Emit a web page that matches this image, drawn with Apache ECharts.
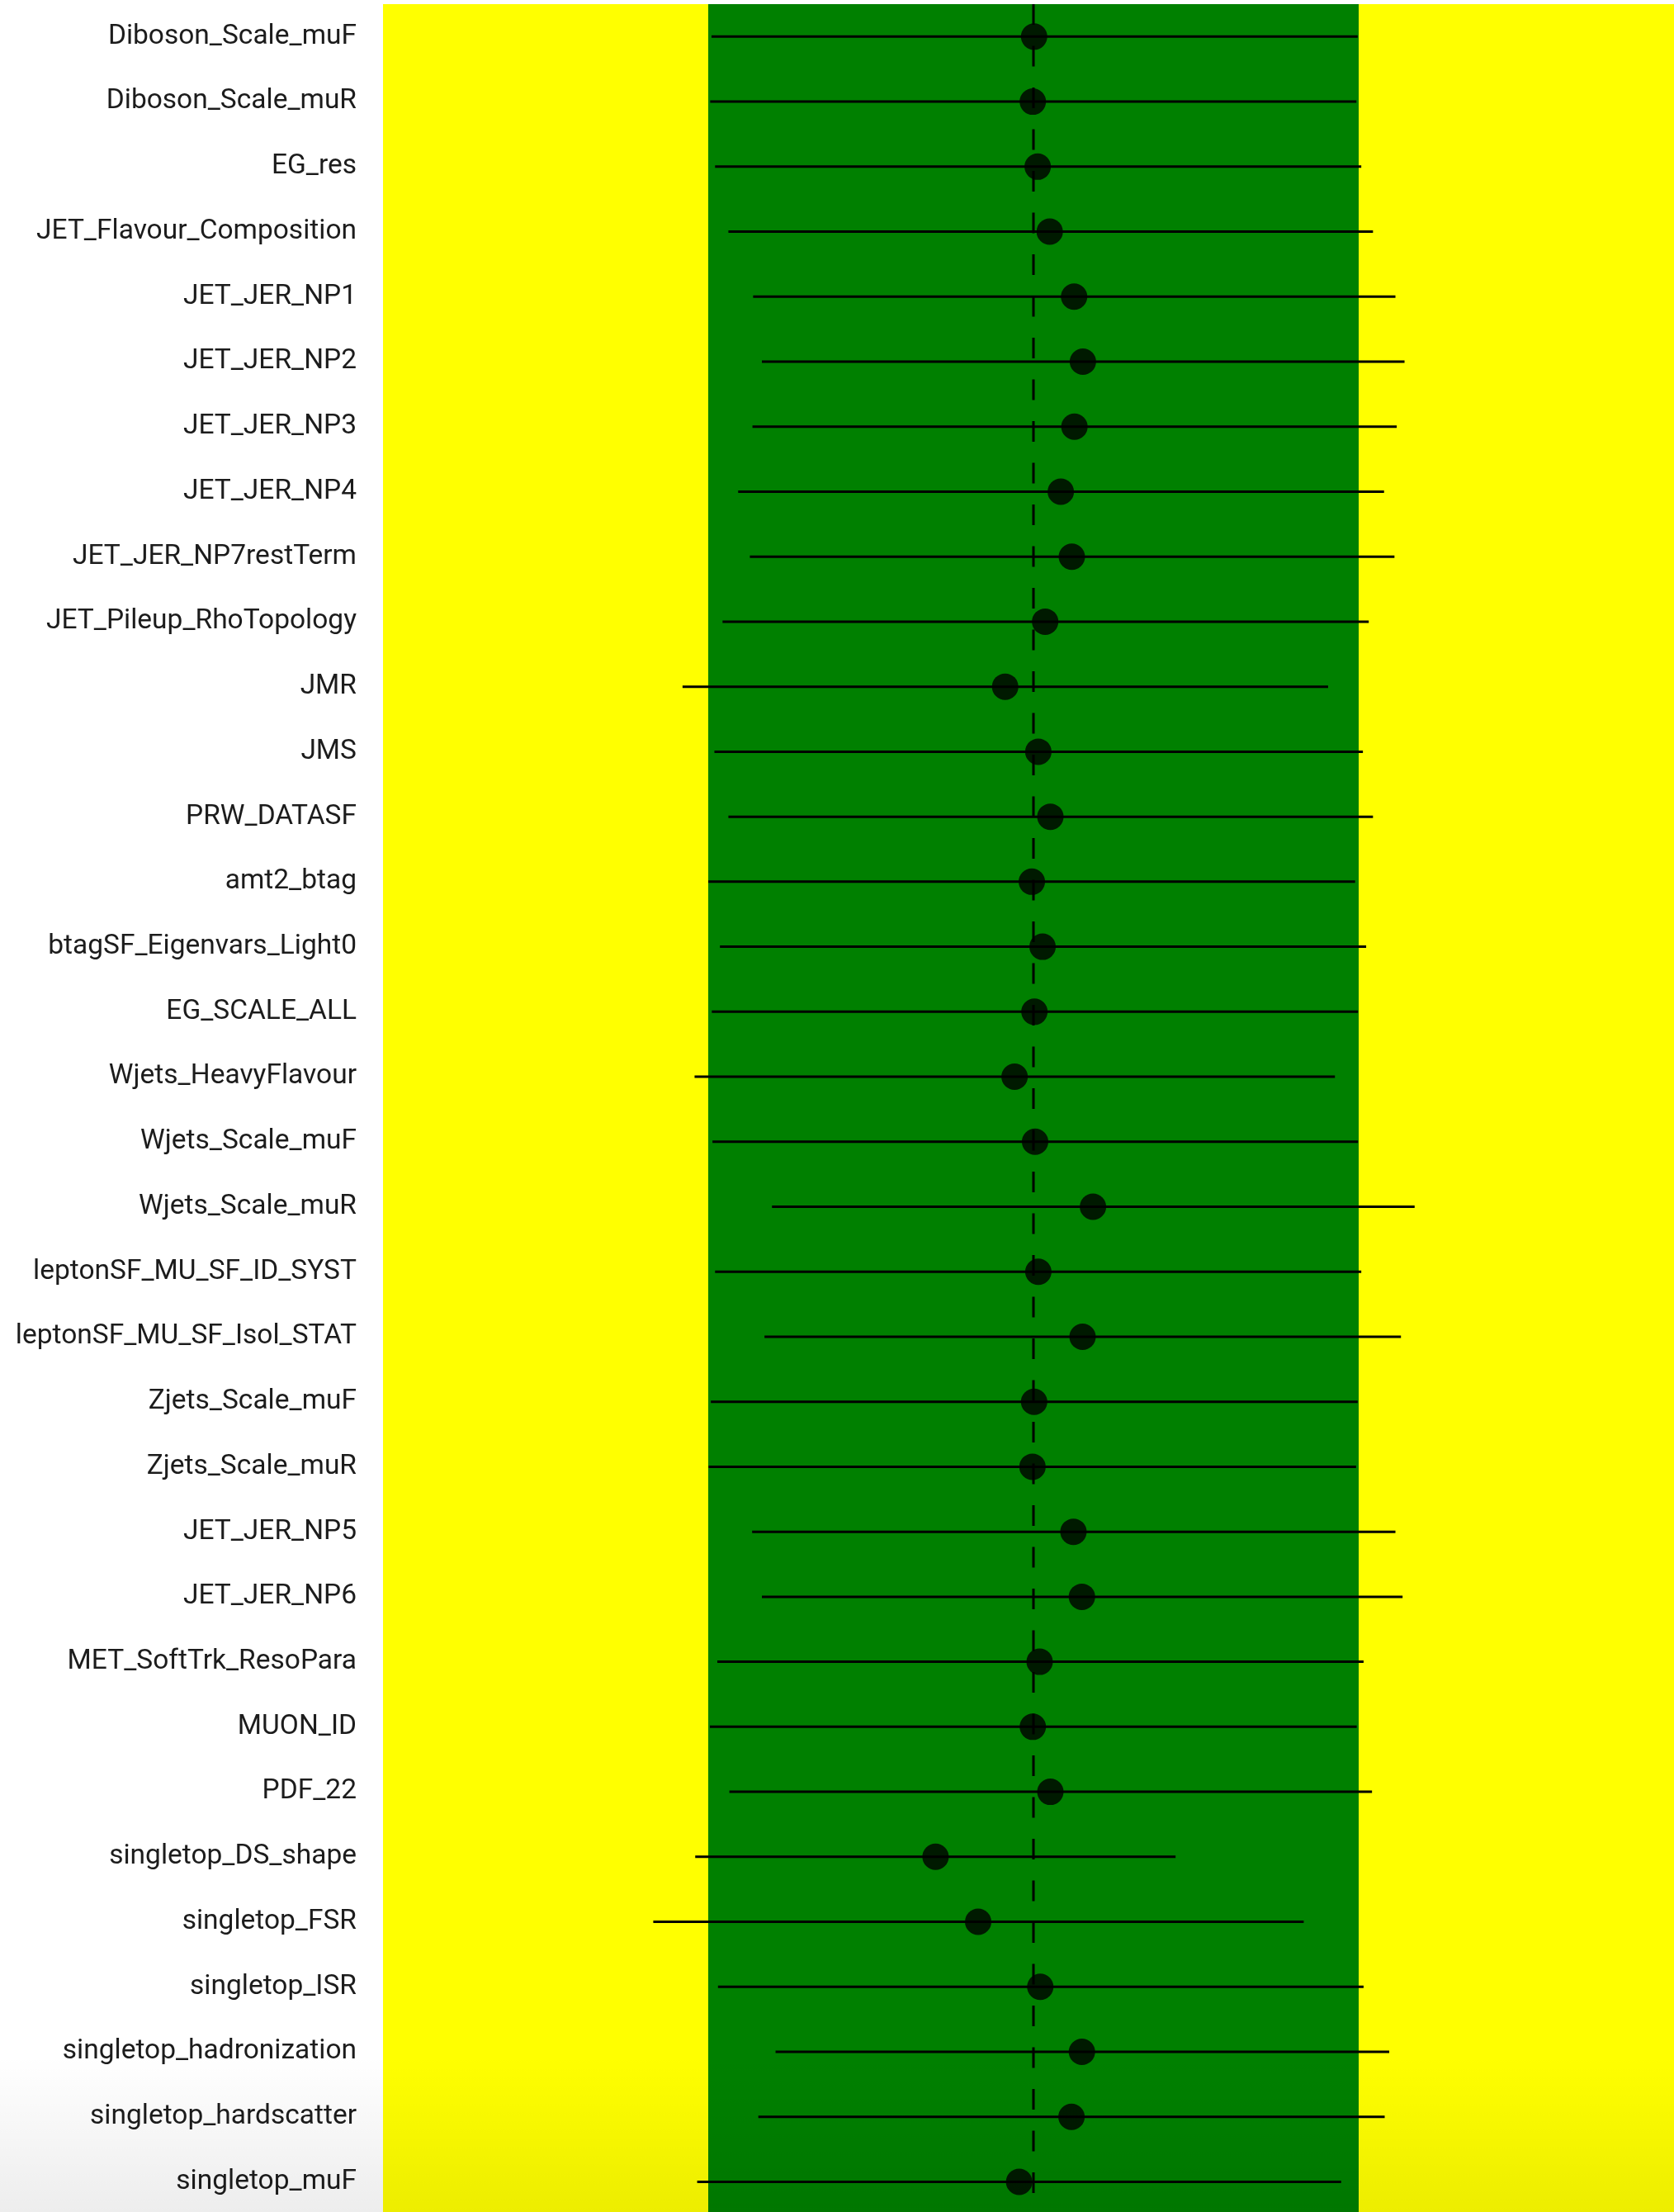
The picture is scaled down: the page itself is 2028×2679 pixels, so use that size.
<!DOCTYPE html>
<html>
<head>
<meta charset="utf-8">
<title>Nuisance parameter pulls</title>
<script src="https://cdn.jsdelivr.net/npm/echarts@6/dist/echarts.min.js"></script>
<style>
  html, body { margin: 0; padding: 0; background: #ffffff; }
  #chart { width: 2028px; height: 2679px; }
</style>
</head>
<body>
<div id="chart"></div>
<script>
// Nuisance parameters, top to bottom
const nuisanceNames = [
  'Diboson_Scale_muF', 'Diboson_Scale_muR', 'EG_res', 'JET_Flavour_Composition',
  'JET_JER_NP1', 'JET_JER_NP2', 'JET_JER_NP3', 'JET_JER_NP4', 'JET_JER_NP7restTerm',
  'JET_Pileup_RhoTopology', 'JMR', 'JMS', 'PRW_DATASF', 'amt2_btag',
  'btagSF_Eigenvars_Light0', 'EG_SCALE_ALL', 'Wjets_HeavyFlavour', 'Wjets_Scale_muF',
  'Wjets_Scale_muR', 'leptonSF_MU_SF_ID_SYST', 'leptonSF_MU_SF_Isol_STAT',
  'Zjets_Scale_muF', 'Zjets_Scale_muR', 'JET_JER_NP5', 'JET_JER_NP6',
  'MET_SoftTrk_ResoPara', 'MUON_ID', 'PDF_22', 'singletop_DS_shape', 'singletop_FSR',
  'singletop_ISR', 'singletop_hadronization', 'singletop_hardscatter', 'singletop_muF'
];

// Post-fit pull (theta - theta0) / delta_theta
const pullValues = [
  0.002, -0.002, 0.013, 0.050, 0.125, 0.152, 0.126, 0.084, 0.118, 0.036,
  -0.087, 0.015, 0.052, -0.005, 0.028, 0.003, -0.058, 0.005, 0.183, 0.015,
  0.151, 0.002, -0.003, 0.123, 0.149, 0.019, -0.002, 0.052, -0.301, -0.170,
  0.021, 0.149, 0.117, -0.044
];

// Lower end of the post-fit uncertainty bar
const errLow = [
  -0.990, -0.994, -0.979, -0.938, -0.862, -0.835, -0.864, -0.908, -0.872, -0.956,
  -1.079, -0.981, -0.938, -1.000, -0.964, -0.989, -1.042, -0.987, -0.804, -0.979,
  -0.827, -0.992, -0.999, -0.865, -0.835, -0.972, -0.995, -0.935, -1.040, -1.169,
  -0.970, -0.793, -0.846, -1.034
];

// Upper end of the post-fit uncertainty bar
const errHigh = [
  0.997, 0.993, 1.008, 1.044, 1.113, 1.141, 1.117, 1.078, 1.110, 1.031,
  0.906, 1.013, 1.044, 0.989, 1.023, 0.998, 0.927, 0.998, 1.172, 1.008,
  1.130, 0.997, 0.992, 1.113, 1.135, 1.015, 0.994, 1.041, 0.437, 0.831,
  1.015, 1.094, 1.080, 0.946
];

// +-1 sigma band limits
const oneSigma = [-1, 1];

const chart = echarts.init(document.getElementById('chart'), null, { renderer: 'canvas' });

const ROW_HEIGHT = 78.73;

chart.setOption({
  backgroundColor: '#ffffff',
  animation: false,
  grid: {
    left: 464,
    top: 5,
    width: 1576,
    height: ROW_HEIGHT * nuisanceNames.length,
    outerBoundsMode: 'none',
    show: true,
    backgroundColor: '#ffff00',
    borderWidth: 0,
    containLabel: false
  },
  xAxis: {
    type: 'value',
    min: -2,
    max: 2,
    show: false
  },
  yAxis: {
    type: 'category',
    inverse: true,
    data: nuisanceNames,
    axisLine: { show: false },
    axisTick: { show: false },
    splitLine: { show: false },
    axisLabel: {
      margin: 32,
      padding: [4, 0, 0, 0],
      fontFamily: 'Roboto',
      fontSize: 33.5,
      color: '#1c1c1c'
    }
  },
  series: [
    {
      // green +-1 sigma band
      type: 'custom',
      z: 1,
      silent: true,
      data: [oneSigma],
      encode: { x: [0, 1] },
      renderItem: function (params, api) {
        const cs = params.coordSys;
        const a = api.coord([api.value(0), 0]);
        const b = api.coord([api.value(1), 0]);
        return {
          type: 'rect',
          shape: { x: a[0], y: cs.y, width: b[0] - a[0], height: cs.height },
          style: { fill: '#008000' }
        };
      }
    },
    {
      // dashed line at zero pull
      type: 'custom',
      z: 2,
      silent: true,
      data: [[0]],
      encode: { x: 0 },
      renderItem: function (params, api) {
        const cs = params.coordSys;
        const p = api.coord([api.value(0), 0]);
        return {
          type: 'line',
          shape: { x1: p[0], y1: cs.y, x2: p[0], y2: cs.y + cs.height },
          style: { stroke: '#000000', lineWidth: 3, lineDash: [25, 25.5] }
        };
      }
    },
    {
      // uncertainty bars
      type: 'custom',
      z: 3,
      silent: true,
      data: nuisanceNames.map((n, i) => [errLow[i], errHigh[i], i]),
      encode: { x: [0, 1], y: 2 },
      renderItem: function (params, api) {
        const row = api.value(2);
        const a = api.coord([api.value(0), row]);
        const b = api.coord([api.value(1), row]);
        return {
          type: 'line',
          shape: { x1: a[0], y1: a[1], x2: b[0], y2: b[1] },
          style: { stroke: '#000000', lineWidth: 3 }
        };
      }
    },
    {
      // central pull values
      type: 'scatter',
      z: 4,
      silent: true,
      symbol: 'circle',
      symbolSize: 32,
      itemStyle: { color: '#000000' },
      data: pullValues.map((v, i) => [v, i])
    }
  ],
  graphic: [
    {
      // soft shading along the lower edge
      type: 'rect',
      silent: true,
      z: 100,
      left: 0,
      top: 2490,
      shape: { width: 2028, height: 189 },
      style: {
        fill: new echarts.graphic.LinearGradient(0, 0, 0, 1, [
          { offset: 0, color: 'rgba(0,0,0,0)' },
          { offset: 1, color: 'rgba(0,0,0,0.07)' }
        ])
      }
    }
  ]
});
</script>
</body>
</html>
